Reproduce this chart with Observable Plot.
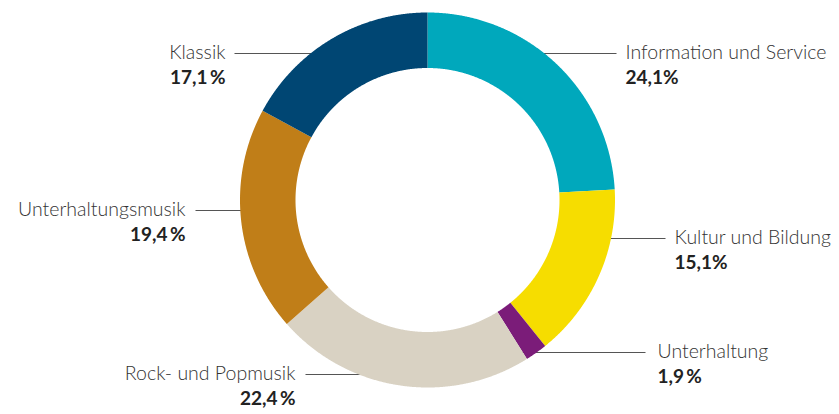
<!DOCTYPE html>
<html><head><meta charset="utf-8">
<script src="https://cdn.jsdelivr.net/npm/d3@7"></script>
<script src="https://cdn.jsdelivr.net/npm/@observablehq/plot@0.6"></script>
<style>body{margin:0;background:#fff}svg{display:block}</style>
</head><body><div id="chart"></div>
<script>
// ---- data ----
const categories = ["Information und Service","Kultur und Bildung","Unterhaltung","Rock- und Popmusik","Unterhaltungsmusik","Klassik"];
const shares = [24.1, 15.1, 1.9, 22.4, 19.4, 17.1];
const valueLabels = ["24,1%","15,1%","1,9\u2009%","22,4\u2009%","19,4\u2009%","17,1\u2009%"];
const colors = ["#00a8bc","#f6dd00","#7b1c79","#d9d2c3","#c07e18","#004673"];

// ---- layout (separate from data) ----
const W = 839, H = 414;
const cx = 427.5, cy = 200, R = 187.5, r = 132;
const labelY = [53, 238, 352, 374, 210, 53];
const textX  = [625, 674, 657, 295, 185, 225];
const lineX  = [616, 665, 645, 305, 195, 234];
const side   = ["start","start","start","end","end","end"];
const valueOffset = 24;

// ring geometry from shares
const total = d3.sum(shares);
const pts = [];
let acc = 0;
shares.forEach((v, i) => {
  const a0 = acc / total * 2 * Math.PI;
  acc += v;
  const a1 = acc / total * 2 * Math.PI;
  const n = Math.max(2, Math.ceil((a1 - a0) / (Math.PI / 720)));
  for (let k = 0; k <= n; k++) {
    const t = a0 + (a1 - a0) * k / n;
    pts.push({cat: categories[i],
      x1: cx + R * Math.sin(t), y1: cy - R * Math.cos(t),
      x2: cx + r * Math.sin(t), y2: cy - r * Math.cos(t)});
  }
});

const labels = categories.map((c, i) => {
  const rm = (R + r) / 2, dy = labelY[i] - cy;
  const dx = Math.sqrt(Math.max(0, rm * rm - dy * dy));
  return {cat: c, value: valueLabels[i], y: labelY[i], tx: textX[i], lx: lineX[i],
    ex: side[i] === "start" ? cx + dx : cx - dx, side: side[i]};
});

const font = "Lato, 'Open Sans', sans-serif";
const textMarks = ["start","end"].flatMap(s => {
  const d = labels.filter(l => l.side === s);
  return [
    Plot.text(d, {x: "tx", y: "y", text: "cat", textAnchor: s, fill: "#333", fontSize: 19.5, fontWeight: 300, dy: -1}),
    Plot.text(d, {x: "tx", y: l => l.y + valueOffset, text: "value", textAnchor: s, fill: "#222", fontSize: 19, fontWeight: 700})
  ];
});

const chart = Plot.plot({
  width: W, height: H, margin: 0,
  style: {fontFamily: font, background: "#fff"},
  x: {domain: [0, W], range: [0, W], axis: null},
  y: {domain: [0, H], range: [0, H], axis: null},
  color: {domain: categories, range: colors},
  marks: [
    Plot.link(labels, {x1: "lx", x2: "ex", y1: "y", y2: "y", stroke: "#555", strokeWidth: 1.2}),
    Plot.area(pts, {x1: "x1", y1: "y1", x2: "x2", y2: "y2", z: "cat", fill: "cat"}),
    ...textMarks
  ]
});
document.getElementById("chart").appendChild(chart);
</script>
</body></html>
